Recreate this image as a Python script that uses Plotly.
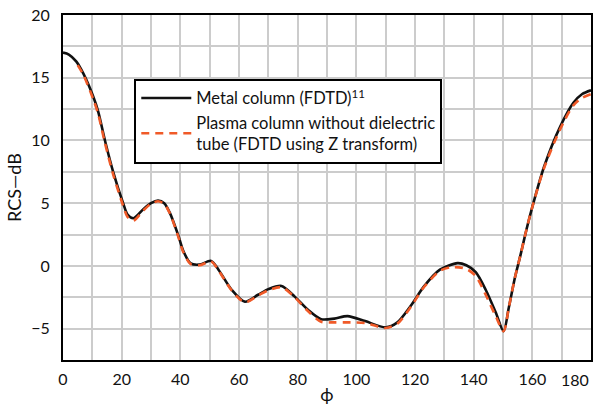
import plotly.graph_objects as go

# Metal column (FDTD)
metal_phi = [0, 2, 4.5, 7, 10.3, 12, 14.3, 17.1, 20.5, 22, 24, 27.3, 30, 32.4, 34.5, 36.4, 39.2, 41, 43.5,
             46.5, 50.5, 53, 57.5, 62, 66.5, 70, 74.5, 79, 83.5, 88, 92.5, 97, 103, 110, 114, 118.5, 123,
             128.5, 134.5, 137.5, 140.7, 144.1, 147.5, 150.2, 152, 154, 156, 158, 160, 164, 169.5, 174, 177, 180]
metal_rcs = [17.0, 16.85, 16.3, 15.3, 13.5, 12.3, 10.0, 7.5, 5.0, 4.1, 3.8, 4.5, 5.0, 5.2, 5.0, 4.25, 2.5, 1.2, 0.2,
             0.1, 0.4, -0.3, -1.9, -2.85, -2.3, -1.85, -1.6, -2.45, -3.5, -4.25, -4.2, -4.0, -4.4, -4.9, -4.5, -3.2, -1.65,
             -0.3, 0.22, 0.05, -0.5, -1.9, -3.7, -5.2, -3.3, -1.0, 0.9, 2.9, 4.7, 7.9, 11.1, 13.0, 13.7, 14.0]

# Plasma column without dielectric tube (FDTD using Z transform)
plasma_phi = [5, 7, 10.3, 12, 14.3, 17.1, 20.5, 22, 24, 27.3, 30, 32.4, 34.5, 36.4, 39.2, 41, 43.5,
              46.5, 50.5, 53, 57.5, 62, 66.5, 70, 74.5, 79, 83.5, 88, 92.5, 97, 103, 110, 114, 118.5, 123,
              128.5, 132.5, 137.5, 140.7, 144.1, 147.5, 150.2, 152, 154, 156, 158, 160, 164, 169.5, 174, 177, 180]
plasma_rcs = [16.0, 15.2, 13.3, 12.1, 9.8, 7.3, 4.8, 3.9, 3.6, 4.4, 4.95, 5.15, 4.95, 4.2, 2.4, 1.1, 0.15,
              0.05, 0.35, -0.35, -1.95, -2.9, -2.35, -1.95, -1.7, -2.5, -3.6, -4.45, -4.5, -4.5, -4.55, -4.95, -4.6, -3.3, -1.7,
              -0.4, -0.1, -0.25, -0.8, -2.3, -4.0, -5.2, -3.3, -1.0, 0.9, 2.9, 4.7, 7.8, 10.9, 12.8, 13.4, 13.7]

x_ticks = [0, 20, 40, 60, 80, 100, 120, 140, 160]
y_ticks = [-5, 0, 5, 10, 15, 20]

FONT = "Lato, 'DejaVu Sans', sans-serif"

fig = go.Figure()
fig.add_trace(go.Scatter(
    x=metal_phi, y=metal_rcs, mode="lines", line=dict(color="#111111", width=2.6, shape="spline", smoothing=0.8),
    name="Metal column (FDTD)<sup>11</sup>"))
fig.add_trace(go.Scatter(
    x=plasma_phi, y=plasma_rcs, mode="lines",
    line=dict(color="#F05A28", width=2.6, dash="8px,6px", shape="spline", smoothing=0.8),
    name="Plasma column without dielectric<br>tube (FDTD using Z transform)"))

fig.update_layout(
    width=597, height=407,
    margin=dict(l=63, r=4, t=15, b=47),
    plot_bgcolor="white", paper_bgcolor="white",
    font=dict(family=FONT, size=16, color="#111111"),
    showlegend=True,
    legend=dict(x=0.135, y=0.815, xanchor="left", yanchor="top",
                bgcolor="white", bordercolor="black", borderwidth=2,
                font=dict(size=16.5), tracegroupgap=0, itemwidth=50),
    xaxis=dict(range=[0, 180], tickvals=x_ticks, showgrid=True, gridcolor="#cccccc", gridwidth=1.5,
               minor=dict(dtick=10, showgrid=True, gridcolor="#cccccc", gridwidth=1.5),
               showline=True, linecolor="black", linewidth=2, mirror=True, ticks="",
               ticklabelstandoff=4,
               title=dict(text="ϕ", standoff=1, font=dict(size=18)), zeroline=False),
    yaxis=dict(range=[-7.5, 20], tickvals=y_ticks, showgrid=True, gridcolor="#cccccc", gridwidth=1.5,
               minor=dict(dtick=2.5, showgrid=True, gridcolor="#cccccc", gridwidth=1.5),
               showline=True, linecolor="black", linewidth=2, mirror=True, ticks="",
               ticklabelstandoff=8,
               title=dict(text="RCS—dB", standoff=5, font=dict(size=18)), zeroline=False),
)
fig.add_annotation(x=180, y=0, xref="x", yref="paper", yanchor="top", xanchor="right",
                   yshift=-8, text="180", showarrow=False, font=dict(size=16))

fig.write_html("out.html")
